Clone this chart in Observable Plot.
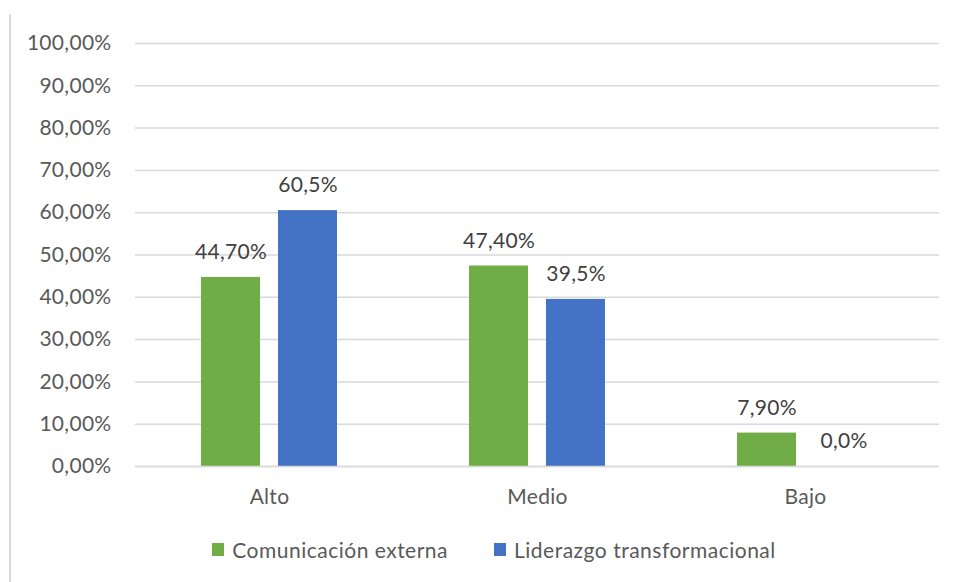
<!DOCTYPE html>
<html>
<head>
<meta charset="utf-8">
<script src="https://cdn.jsdelivr.net/npm/d3@7"></script>
<script src="https://cdn.jsdelivr.net/npm/@observablehq/plot@0.6"></script>
<style>
  html, body { margin: 0; padding: 0; background: #fff; }
  #wrap { position: relative; width: 956px; height: 582px; overflow: hidden; font-family: Lato, "Open Sans", sans-serif; }
  #frame { position: absolute; left: 9px; top: 14px; width: 0; height: 580px; border-left: 2px solid #d9d9d9; }
  #chart { position: absolute; left: 0; top: 0; }
  #legend { position: absolute; left: 0; top: 537px; width: 956px; display: flex; justify-content: center; gap: 46px; font-size: 21px; letter-spacing: 0.5px; color: #595959; padding-left: 32px; box-sizing: border-box; }
  .item { display: flex; align-items: center; gap: 8px; }
  .sw { width: 12px; height: 13px; display: inline-block; }
</style>
</head>
<body>
<div id="wrap">
  <div id="frame"></div>
  <div id="chart"></div>
  <div id="legend"></div>
</div>
<script>
const categories = ["Alto", "Medio", "Bajo"];
const series = ["Comunicación externa", "Liderazgo transformacional"];
const colors = ["#70AD47", "#4472C4"];
const comunicacion = [0.447, 0.474, 0.079];
const liderazgo = [0.605, 0.395, 0.0];
const comunicacionLabels = ["44,70%", "47,40%", "7,90%"];
const liderazgoLabels = ["60,5%", "39,5%", "0,0%"];
const yTicks = [0, 0.1, 0.2, 0.3, 0.4, 0.5, 0.6, 0.7, 0.8, 0.9, 1.0];
const yTickLabels = ["0,00%", "10,00%", "20,00%", "30,00%", "40,00%", "50,00%", "60,00%", "70,00%", "80,00%", "90,00%", "100,00%"];

const data = [];
categories.forEach((c, i) => {
  data.push({category: c, series: series[0], value: comunicacion[i], label: comunicacionLabels[i]});
  data.push({category: c, series: series[1], value: liderazgo[i], label: liderazgoLabels[i]});
});

const chart = Plot.plot({
  width: 956,
  height: 530,
  marginLeft: 134,
  marginRight: 16,
  marginTop: 43,
  marginBottom: 64,
  style: {fontFamily: "Lato, 'Open Sans', sans-serif", fontSize: "21px", color: "#595959", background: "transparent", letterSpacing: "0.3px"},
  fx: {domain: categories, padding: 0, label: null},
  x: {domain: series, paddingInner: 0.2308, paddingOuter: 0.838, axis: null},
  y: {domain: [0, 1], label: null},
  color: {domain: series, range: colors},
  marks: [
    Plot.gridY(yTicks, {stroke: "#d9d9d9", strokeOpacity: 1, strokeWidth: 1.5}),
    Plot.axisY(yTicks, {tickSize: 0, tickPadding: 24, tickFormat: (d) => yTickLabels[yTicks.indexOf(d)], fill: "#595959", fontSize: 21}),
    Plot.axisFx({anchor: "bottom", tickSize: 0, tickPadding: 23, label: null, fill: "#595959", fontSize: 21}),
    Plot.barY(data, {fx: "category", x: "series", y: "value", fill: "series"}),
    Plot.ruleY([0], {stroke: "#d9d9d9", strokeWidth: 1.5}),
    Plot.text(data, {fx: "category", x: "series", y: "value", text: "label", dy: -25, lineAnchor: "middle", fill: "#404040", fontSize: 21})
  ]
});
document.getElementById("chart").appendChild(chart);

const legend = document.getElementById("legend");
series.forEach((s, i) => {
  const item = document.createElement("div");
  item.className = "item";
  const sw = document.createElement("span");
  sw.className = "sw";
  sw.style.background = colors[i];
  const t = document.createElement("span");
  t.textContent = s;
  item.appendChild(sw);
  item.appendChild(t);
  legend.appendChild(item);
});
</script>
</body>
</html>
